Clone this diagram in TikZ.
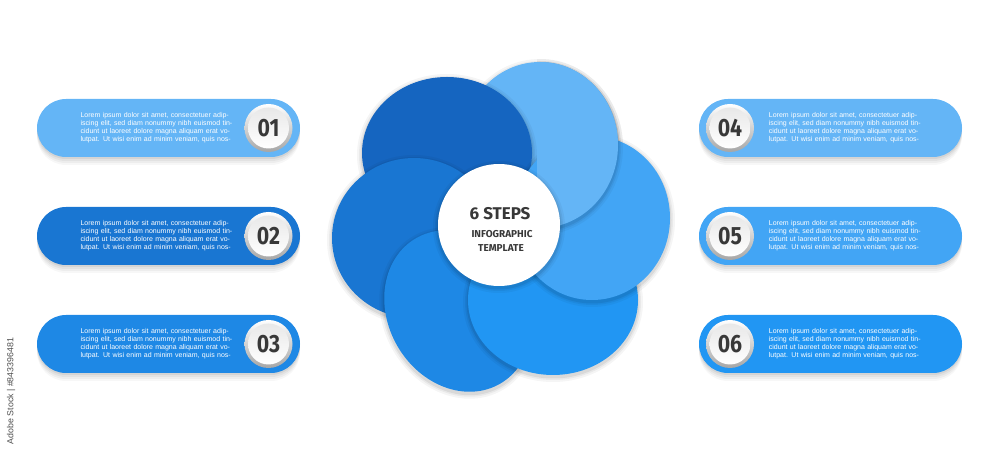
\documentclass[tikz,border=0pt]{standalone}
\usepackage{fontspec}
\setmainfont{Liberation Sans}
\newfontfamily\headfont{Fira Sans}
\usepackage{graphicx}
\usepackage{xcolor}
\definecolor{igdeep}{HTML}{1565C0}
\definecolor{igdark}{HTML}{1976D2}
\definecolor{igmid}{HTML}{1E88E5}
\definecolor{igbright}{HTML}{2196F3}
\definecolor{igsky}{HTML}{42A5F5}
\definecolor{iglight}{HTML}{64B5F6}
\definecolor{igink}{HTML}{383838}
\usepackage{tikz}
\usetikzlibrary{positioning}

% four justified filler lines of every box
\newcommand{\loremtext}{%
  \makebox[\linewidth][s]{Lorem ipsum dolor sit amet, consectetuer adip-}\\
  \makebox[\linewidth][s]{iscing elit, sed diam nonummy nibh euismod tin-}\\
  \makebox[\linewidth][s]{cidunt ut laoreet dolore magna aliquam erat vo-}\\
  \makebox[\linewidth][s]{lutpat. Ut wisi enim ad minim veniam, quis nos-}}

% one petal with its soft shadow: colour, x, y, x radius, y radius, tilt
\newcommand{\flowerpetal}[6]{%
  \foreach \g/\o in {5/0.04, 3/0.05, 1.5/0.07}
    \fill[black, opacity=\o, rotate around={#6:(#2,#3-2)}] (#2,#3-2) ellipse [x radius=#4+\g, y radius=#5+\g];
  \fill[#1, rotate around={#6:(#2,#3)}] (#2,#3) ellipse [x radius=#4, y radius=#5];}

\begin{document}
\begin{tikzpicture}[x=1pt, y=1pt,
  pill/.style={rectangle, rounded corners=29pt, minimum width=263pt, minimum height=58pt, inner sep=0pt},
  numdisc/.style={circle, minimum size=41pt, inner sep=0pt, top color=black!9, bottom color=white,
    text=igink, font=\headfont\bfseries\fontsize{25}{25}\selectfont},
  ring/.style={top color=white, bottom color=black!35},
  lorem/.style={text width=150pt, inner sep=0pt, align=left, text=white,
    font=\fontsize{7}{8}\selectfont}]
  \useasboundingbox (0,0) rectangle (1000,452);

  % --- Petals (the top right one is laid twice, so the ring closes) ---
  \flowerpetal{iglight}{540}{307}{78}{83}{0}
  \flowerpetal{igdeep}{447}{299}{85}{76}{0}
  \flowerpetal{igdark}{414}{214}{82}{80}{0}
  \flowerpetal{igmid}{458}{141}{84}{70}{-60}
  \flowerpetal{igbright}{553}{152}{85}{75}{0}
  \flowerpetal{igsky}{592}{234}{78}{82}{0}
  \begin{scope}
    \clip (537,0) rectangle (1000,452);
    \flowerpetal{iglight}{540}{307}{78}{83}{0}
  \end{scope}

  % --- Hub ---
  \foreach \g/\o in {5/0.04, 3/0.05, 1.5/0.07}
    \fill[black, opacity=\o] (499,225) circle (61+\g);
  \node[circle, fill=white, minimum size=122pt, inner sep=0pt] (hub) at (499,227) {};
  \node[font=\headfont\bfseries\fontsize{17}{17}\selectfont, text=igink] (title) at ([xshift=1pt, yshift=11pt]hub.center) {6 STEPS};
  \node[font=\headfont\bfseries\fontsize{10}{10}\selectfont, text=igink] (subtitle) at ([xshift=3pt, yshift=-9pt]hub.center) {INFOGRAPHIC};
  \node[font=\headfont\bfseries\fontsize{10}{10}\selectfont, text=igink] (subtitle2) at ([xshift=2pt, yshift=-23pt]hub.center) {TEMPLATE};

  % --- Pill shadows ---
  \foreach \y in {324,216,108}
    \foreach \d/\o in {2/0.06, 4/0.05, 6/0.04, 8/0.03} {
      \fill[black, opacity=\o, rounded corners=29pt] (37,\y-29-\d) rectangle (300,\y+29-\d);
      \fill[black, opacity=\o, rounded corners=29pt] (699,\y-29-\d) rectangle (962,\y+29-\d);
    }

  % --- Left boxes ---
  \node[pill, fill=iglight] (p1) at (168.5,324) {};
  \node[pill, fill=igdark]  (p2) at (168.5,216) {};
  \node[pill, fill=igmid]   (p3) at (168.5,108) {};
  \foreach \y in {324,216,108}
    \shade[ring] (268.5,\y) circle (24);
  \node[numdisc] (n1) at (268.5,324) {\scalebox{.85}[1]{01}};
  \node[numdisc] (n2) at (268.5,216) {\scalebox{.85}[1]{02}};
  \node[numdisc] (n3) at (268.5,108) {\scalebox{.85}[1]{03}};
  \node[lorem, left=17pt of n1] (t1) {\loremtext};
  \node[lorem, left=17pt of n2] (t2) {\loremtext};
  \node[lorem, left=17pt of n3] (t3) {\loremtext};

  % --- Right boxes ---
  \node[pill, fill=iglight]  (p4) at (830.5,324) {};
  \node[pill, fill=igsky]    (p5) at (830.5,216) {};
  \node[pill, fill=igbright] (p6) at (830.5,108) {};
  \foreach \y in {324,216,108}
    \shade[ring] (730,\y) circle (24);
  \node[numdisc] (n4) at (730,324) {\scalebox{.85}[1]{04}};
  \node[numdisc] (n5) at (730,216) {\scalebox{.85}[1]{05}};
  \node[numdisc] (n6) at (730,108) {\scalebox{.85}[1]{06}};
  \node[lorem, right=18pt of n4] (t4) {\loremtext};
  \node[lorem, right=18pt of n5] (t5) {\loremtext};
  \node[lorem, right=18pt of n6] (t6) {\loremtext};

  % stock credit at the left edge
  \node[rotate=90, font=\fontsize{8.8}{9}\selectfont, text=black!70] (stockid) at (11,61) {Adobe Stock | \#843396481};
\end{tikzpicture}
\end{document}
